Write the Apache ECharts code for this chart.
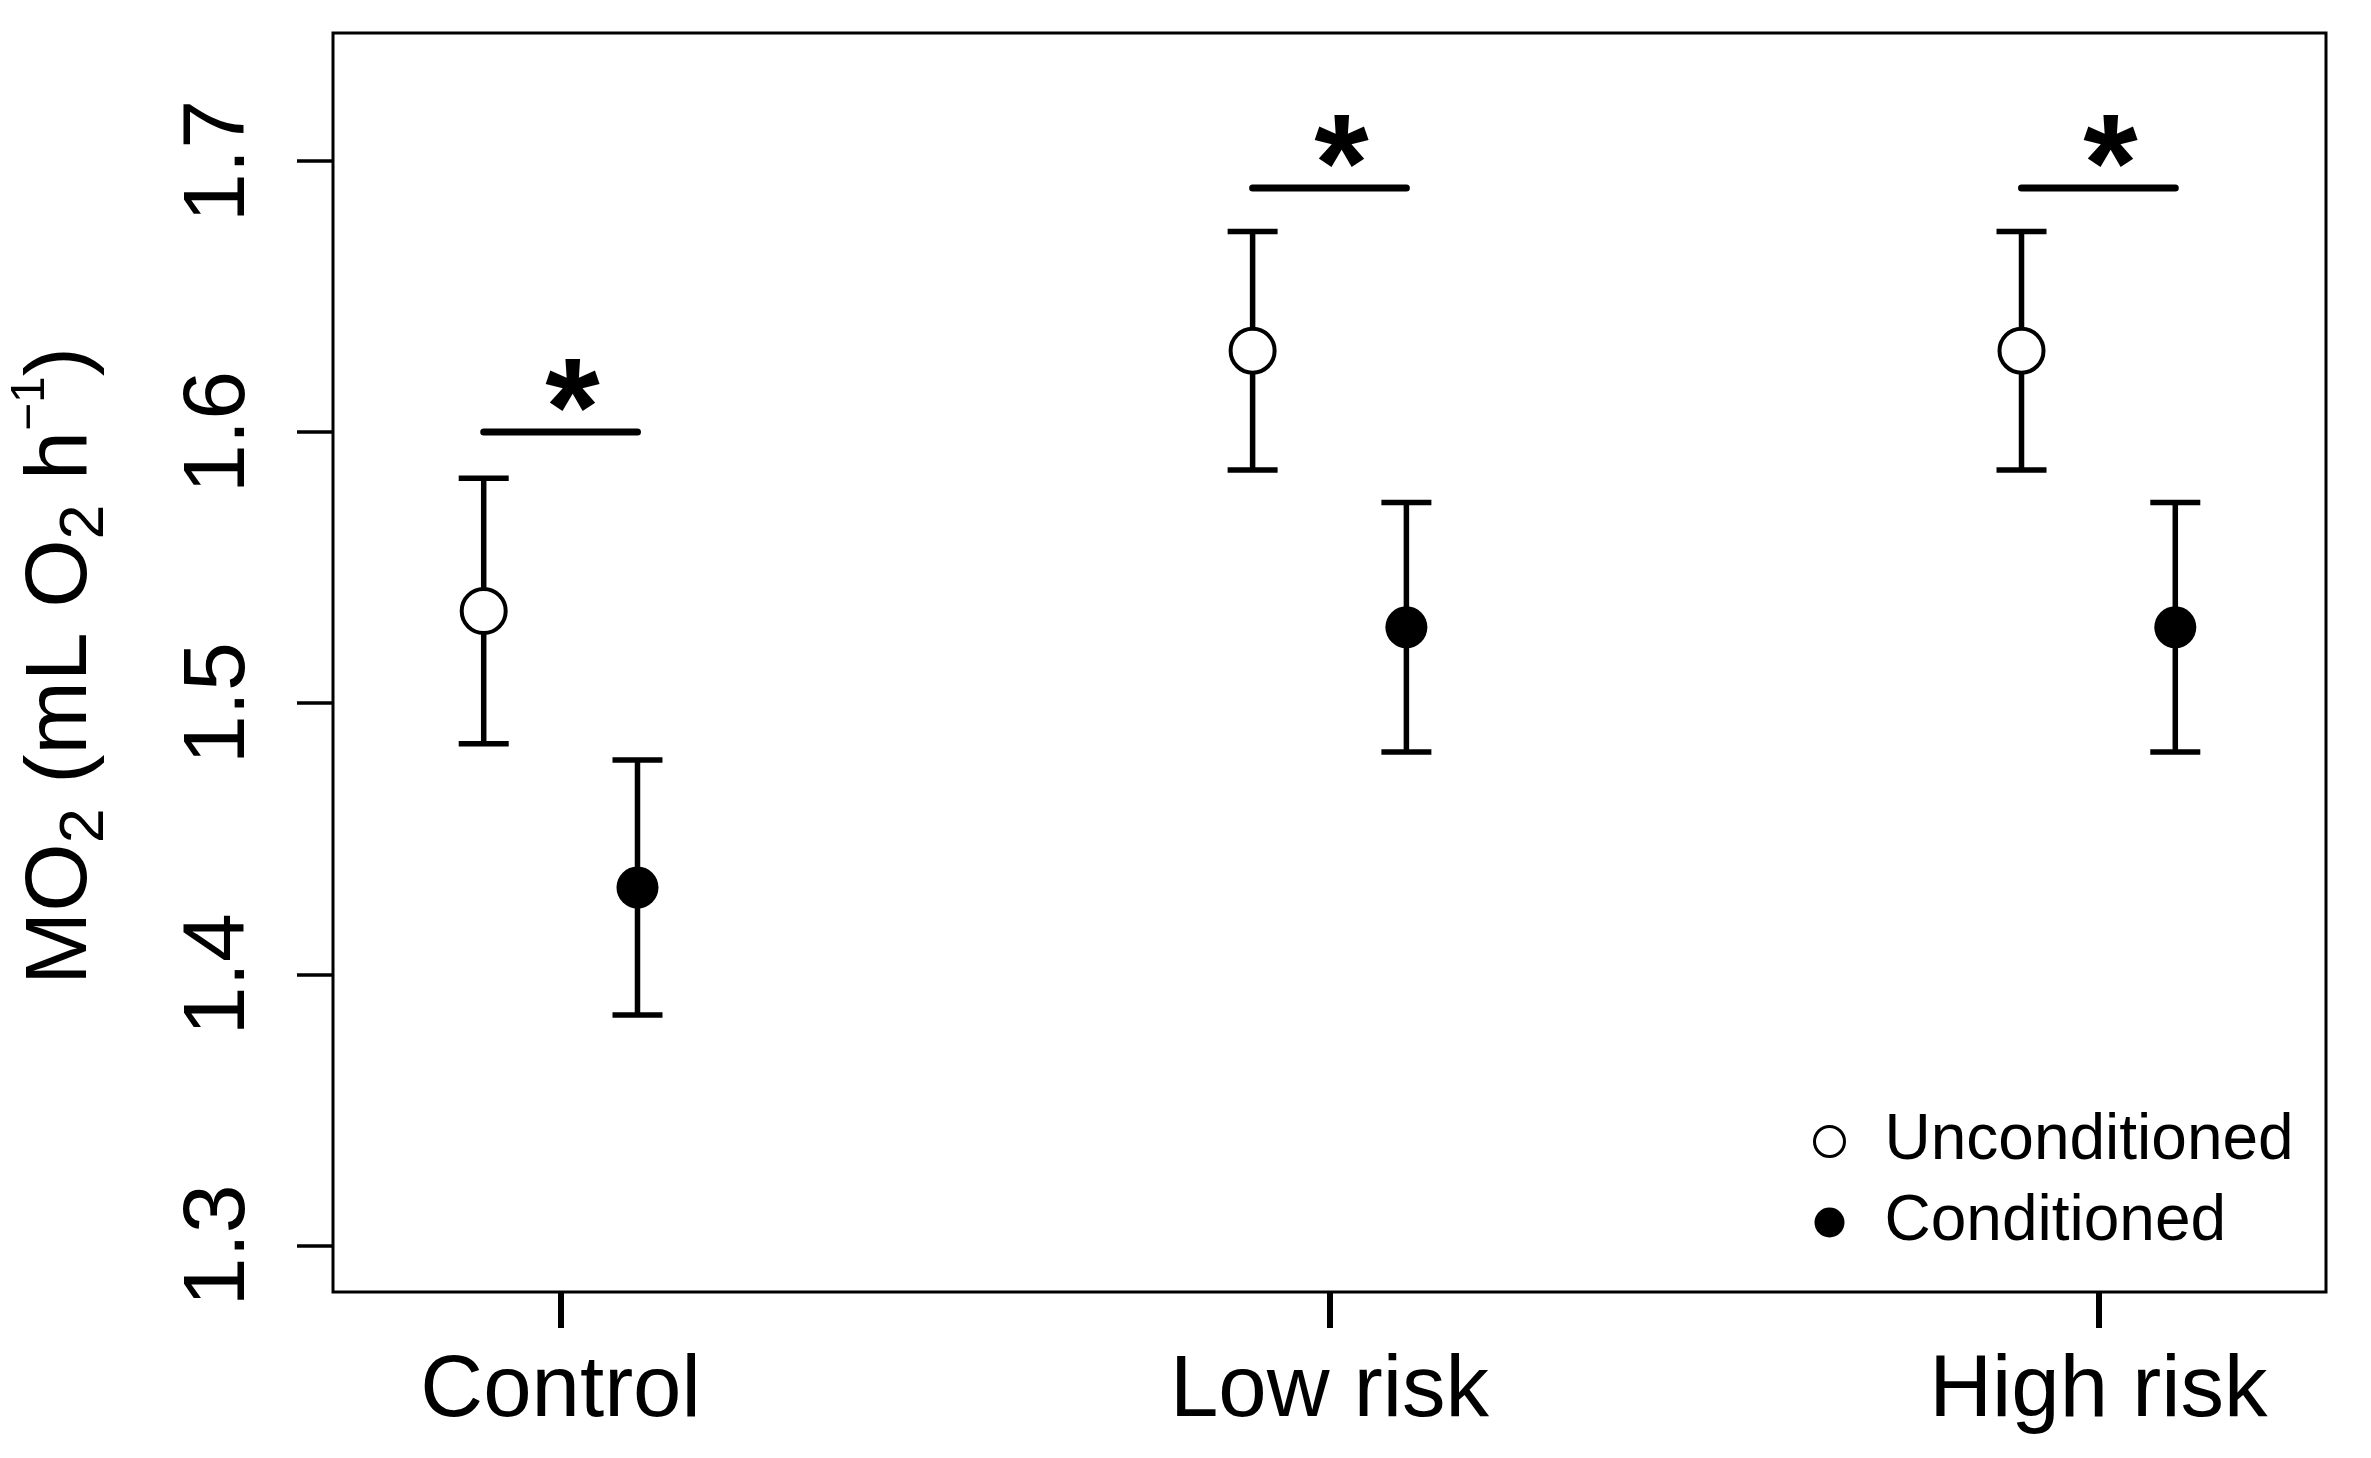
<!DOCTYPE html>
<html>
<head>
<meta charset="utf-8">
<title>MO2</title>
<script src="https://cdn.jsdelivr.net/npm/echarts@6.0.0/dist/echarts.min.js"></script>
<style>
  html, body { margin: 0; padding: 0; background: #fff; }
  #main { width: 2371px; height: 1458px; }
</style>
</head>
<body>
<div id="main"></div>
<script>
// data
var categories = ['Control', 'Low risk', 'High risk'];
var uncondMean = [1.534, 1.630, 1.630];
var uncondSE   = [0.049, 0.044, 0.044];
var condMean   = [1.432, 1.528, 1.528];
var condSE     = [0.047, 0.046, 0.046];
var sigLevel   = [1.600, 1.690, 1.690];
var sigLabel   = ['*', '*', '*'];
var yTicks     = [1.3, 1.4, 1.5, 1.6, 1.7];
var xTicks     = [1, 2, 3];

var FONT = '"Liberation Sans", Arial, Helvetica, sans-serif';
var dodge = 0.1;

// build series rows from the arrays
var uncondPts = [], condPts = [], uncondErr = [], condErr = [], sigRows = [];
for (var i = 0; i < categories.length; i++) {
    uncondPts.push([xTicks[i] - dodge, uncondMean[i]]);
    condPts.push([xTicks[i] + dodge, condMean[i]]);
    uncondErr.push([xTicks[i] - dodge, uncondMean[i], uncondSE[i]]);
    condErr.push([xTicks[i] + dodge, condMean[i], condSE[i]]);
    sigRows.push([xTicks[i] - dodge, xTicks[i] + dodge, sigLevel[i], sigLabel[i]]);
}

// error bar: vertical line with caps
function renderErr(params, api) {
    var x = api.value(0), m = api.value(1), s = api.value(2);
    var top = api.coord([x, m + s]);
    var bot = api.coord([x, m - s]);
    var hw = 25;
    var st = { stroke: '#000', lineWidth: 5.5, lineCap: 'butt' };
    return {
        type: 'group',
        children: [
            { type: 'line', shape: { x1: top[0], y1: top[1], x2: bot[0], y2: bot[1] }, style: st },
            { type: 'line', shape: { x1: top[0] - hw, y1: top[1], x2: top[0] + hw, y2: top[1] }, style: st },
            { type: 'line', shape: { x1: bot[0] - hw, y1: bot[1], x2: bot[0] + hw, y2: bot[1] }, style: st }
        ]
    };
}

// significance bar with asterisk
function renderSig(params, api) {
    var a = api.coord([api.value(0), api.value(2)]);
    var b = api.coord([api.value(1), api.value(2)]);
    var lbl = sigRows[params.dataIndex][3];
    return {
        type: 'group',
        children: [
            { type: 'line', shape: { x1: a[0], y1: a[1], x2: b[0], y2: b[1] },
              style: { stroke: '#000', lineWidth: 7, lineCap: 'round' } },
            { type: 'text', x: (a[0] + b[0]) / 2 + 12, y: a[1] - 16,
              style: { text: lbl, fontSize: 140, fontWeight: 'bold', fontFamily: FONT,
                       fill: '#000', align: 'center', verticalAlign: 'middle' } }
        ]
    };
}

var myChart = echarts.init(document.getElementById('main'));

var option = {
    animation: false,
    backgroundColor: '#fff',
    grid: {
        left: 333, right: 45, top: 33, bottom: 166,
        show: true, borderColor: '#000', borderWidth: 3, backgroundColor: 'transparent'
    },
    legend: {
        orient: 'vertical',
        left: 1813,
        top: 1109,
        padding: 0,
        itemGap: 16,
        itemWidth: 100,
        itemHeight: 30,
        icon: 'circle',
        textStyle: { fontSize: 64, fontFamily: FONT, color: '#000', lineHeight: 65 },
        data: [
            { name: 'Unconditioned', itemStyle: { color: '#fff', borderColor: '#000', borderWidth: 3 } },
            { name: 'Conditioned', itemStyle: { color: '#000', borderWidth: 0 } }
        ]
    },
    xAxis: {
        type: 'value',
        min: 0.704,
        max: 3.296,
        axisLine: { show: false },
        splitLine: { show: false },
        axisTick: { show: true, customValues: xTicks, length: 36, lineStyle: { color: '#000', width: 6 } },
        axisLabel: {
            customValues: xTicks, margin: 57, fontSize: 87, fontFamily: FONT, color: '#000',
            formatter: function (v) { return categories[Math.round(v) - 1]; }
        }
    },
    yAxis: {
        type: 'value',
        min: 1.2828,
        max: 1.7472,
        axisLine: { show: false },
        splitLine: { show: false },
        axisTick: { show: true, customValues: yTicks, length: 36, lineStyle: { color: '#000', width: 3.5 } },
        axisLabel: {
            customValues: yTicks, rotate: 90, margin: 69, fontSize: 88, fontFamily: FONT, color: '#000',
            formatter: function (v) { return v.toFixed(1); }
        }
    },
    graphic: [{
        type: 'text',
        x: 62,
        y: 666,
        rotation: Math.PI / 2,
        style: {
            text: '{a|MO}{s|2}{a| (mL O}{s|2}{a| h}{p|\u22121}{a|)}',
            align: 'center',
            verticalAlign: 'middle',
            fill: '#000',
            rich: {
                a: { fontSize: 88, lineHeight: 110, fontFamily: FONT, fill: '#000' },
                s: { fontSize: 63, lineHeight: 63, fontFamily: FONT, fill: '#000', verticalAlign: 'bottom' },
                p: { fontSize: 48, lineHeight: 56, fontFamily: FONT, fill: '#000', verticalAlign: 'top' }
            }
        }
    }],
    series: [
        { name: 'errU', type: 'custom', renderItem: renderErr, data: uncondErr, encode: { x: 0, y: 1 }, z: 2, silent: true },
        { name: 'errC', type: 'custom', renderItem: renderErr, data: condErr, encode: { x: 0, y: 1 }, z: 2, silent: true },
        { name: 'sig', type: 'custom', renderItem: renderSig, data: sigRows, encode: { x: [0, 1], y: 2 }, z: 2, silent: true },
        {
            name: 'Unconditioned', type: 'scatter', data: uncondPts, symbol: 'circle', symbolSize: 44, z: 5,
            itemStyle: { color: '#fff', borderColor: '#000', borderWidth: 4, opacity: 1 }
        },
        {
            name: 'Conditioned', type: 'scatter', data: condPts, symbol: 'circle', symbolSize: 42, z: 5,
            itemStyle: { color: '#000', opacity: 1 }
        }
    ]
};

myChart.setOption(option);
</script>
</body>
</html>
